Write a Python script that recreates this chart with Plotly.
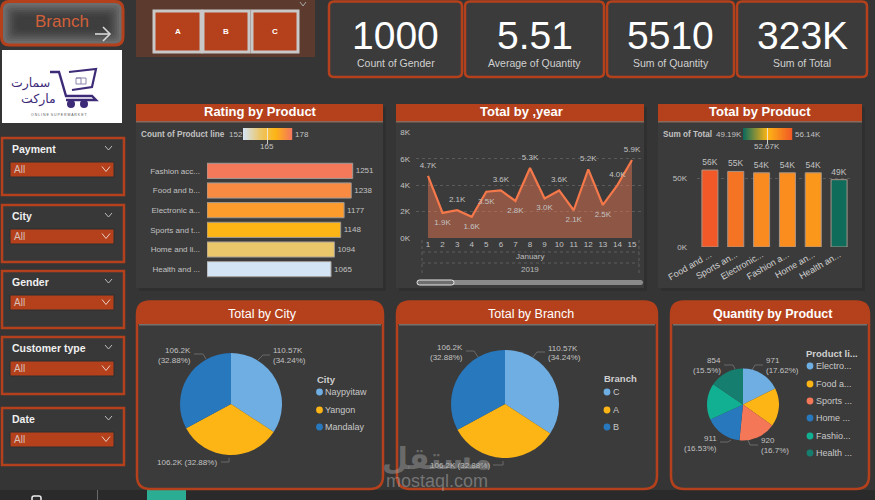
import plotly.graph_objects as go

W, H = 875, 500

# ---- data ----
kpi_values = ["1000", "5.51", "5510", "323K"]
kpi_labels = ["Count of Gender", "Average of Quantity", "Sum of Quantity", "Sum of Total"]
branch_buttons = ["A", "B", "C"]
slicer_names = ["Payment", "City", "Gender", "Customer type", "Date"]

rating_products = ["Fashion acc...", "Food and b...", "Electronic a...", "Sports and t...", "Home and li...", "Health and ..."]
rating_values = [1251, 1238, 1177, 1148, 1094, 1065]
rating_colors = ["#F4785A", "#F98A42", "#FB9C2D", "#FDB515", "#EBC76C", "#D3E4F4"]

days = list(range(1, 16))
day_totals = [4700, 1900, 2100, 1600, 3500, 3600, 2800, 5300, 3000, 3600, 2100, 5200, 2500, 4000, 5900]
day_labels = ["4.7K", "1.9K", "2.1K", "1.6K", "3.5K", "3.6K", "2.8K", "5.3K", "3.0K", "3.6K", "2.1K", "5.2K", "2.5K", "4.0K", "5.9K"]
day_label_pos = ["top center", "bottom center", "top center", "bottom center", "bottom center",
                 "top center", "bottom center", "top center", "bottom center", "top center",
                 "bottom center", "top center", "bottom center", "top center", "top center"]

total_products = ["Food and ...", "Sports an...", "Electronic...", "Fashion a...", "Home an...", "Health an..."]
total_values = [56000, 55000, 54000, 54000, 54000, 49000]
total_labels = ["56K", "55K", "54K", "54K", "54K", "49K"]
total_colors = ["#F15A28", "#F57423", "#FA8B20", "#FB8D1E", "#FB981C", "#0F6B5A"]

city_names = ["Naypyitaw", "Yangon", "Mandalay"]
branch_names = ["C", "A", "B"]
location_totals = [110.57, 106.2, 106.2]
location_shares = [34.24, 32.88, 32.88]
pie3_colors = ["#6FAEE3", "#FDB515", "#2878BE"]

qty_legend = ["Electro...", "Food a...", "Sports ...", "Home ...", "Fashio...", "Health ..."]
qty_values = [971, 952, 920, 911, 902, 854]
qty_share = ["17.62%", "17.28%", "16.7%", "16.53%", "16.37%", "15.5%"]
qty_colors = ["#6FAEE3", "#FDB515", "#F47858", "#2878BE", "#12B093", "#167E6E"]

rating_scale = ["#D3E4F4", "#EBC76C", "#FDB515", "#F4785A"]
total_scale = ["#0E6B5B", "#FDB515", "#F15A25"]

# ---- palette ----
PAGE = "#353535"
CARD = "#3B3B3B"
RED = "#B5411C"
SOFT = "#C2C2C2"
FONT = "Liberation Sans"

shapes, notes = [], []


# ---- pixel helpers for the dashboard furniture ----
def X(px):
    return px / W


def Y(py):
    return 1 - py / H


def rect(x0, y0, x1, y1, fill=None, line=None, width=0):
    shapes.append(dict(type="rect", xref="paper", yref="paper", x0=X(x0), x1=X(x1), y0=Y(y0), y1=Y(y1),
                       fillcolor=fill, line=dict(color=line, width=width), layer="below"))


def path(points, color, width=1, closed=False, fill=None, dash=None):
    d = "M " + " L ".join(f"{X(a):.5f},{Y(b):.5f}" for a, b in points) + (" Z" if closed else "")
    shapes.append(dict(type="path", xref="paper", yref="paper", path=d, fillcolor=fill,
                       line=dict(color=color, width=width, dash=dash), layer="below"))


def round_rect(x0, y0, x1, y1, r, fill=None, line=None, width=0, top_only=False):
    a, b, c, e = X(x0), X(x1), Y(y0), Y(y1)
    rx, ry = r / W, r / H
    if top_only:
        d = (f"M {a},{e} L {a},{c - ry} Q {a},{c} {a + rx},{c} L {b - rx},{c} "
             f"Q {b},{c} {b},{c - ry} L {b},{e} Z")
    else:
        d = (f"M {a},{e + ry} L {a},{c - ry} Q {a},{c} {a + rx},{c} L {b - rx},{c} Q {b},{c} {b},{c - ry} "
             f"L {b},{e + ry} Q {b},{e} {b - rx},{e} L {a + rx},{e} Q {a},{e} {a},{e + ry} Z")
    shapes.append(dict(type="path", xref="paper", yref="paper", path=d, fillcolor=fill,
                       line=dict(color=line, width=width), layer="below"))


def circle(cx, cy, r, fill):
    shapes.append(dict(type="circle", xref="paper", yref="paper", x0=X(cx - r), x1=X(cx + r),
                       y0=Y(cy - r), y1=Y(cy + r), fillcolor=fill, line=dict(width=0), layer="below"))


def text(x, y, s, size=10, color=SOFT, anchor="center", bold=False, family=FONT):
    label = f"<b>{s}</b>" if bold else s
    notes.append(dict(xref="paper", yref="paper", x=X(x), y=Y(y), text=label, showarrow=False,
                      xanchor=anchor, yanchor="middle", borderpad=0,
                      font=dict(size=size, color=color, family=family)))


def mix(stops, t):
    pos = t * (len(stops) - 1)
    i = min(int(pos), len(stops) - 2)
    f = pos - i
    a = [int(stops[i][k:k + 2], 16) for k in (1, 3, 5)]
    b = [int(stops[i + 1][k:k + 2], 16) for k in (1, 3, 5)]
    return "rgb(" + ",".join(str(round(p + (q - p) * f)) for p, q in zip(a, b)) + ")"


def gradient(x0, x1, y0, y1, stops):
    for px in range(x0, x1):
        rect(px, y0, px + 1.2, y1, fill=mix(stops, (px - x0) / (x1 - x0 - 1)))


def chevron(cx, cy, w, h, color="#BDBDBD"):
    path([(cx - w, cy - h), (cx, cy + h), (cx + w, cy - h)], color, 1)


# ---- page ----
rect(0, 0, W, H, fill=PAGE)
rect(0, 490, W, 500, fill="#2A2A2A")
rect(147, 490, 186, 500, fill="#2AAD93")
rect(97, 490, 98, 500, fill="#6A6A6A")
round_rect(32, 496, 41, 504, 2, line="#EDEDED", width=1.5)

# Branch navigation button with its soft bevel
round_rect(1.5, 1.5, 123, 45, 8, fill="#6C6C6C", line=RED, width=3)
for step, shade in enumerate(["#636363", "#595959", "#505050", "#484848", "#424242", "#3E3E3E"]):
    inset = 4 + step * 2.2
    round_rect(1.5 + inset, 1.5 + inset, 123 - inset, 45 - inset, 6, fill=shade)
text(62, 21, "Branch", 17, "#D2603A")
path([(95, 34), (110, 34)], "#D8D8D8", 1.6)
path([(103, 27), (110, 34), (103, 41)], "#D8D8D8", 1.6)

# Logo tile
rect(2, 50, 122, 123, fill="#FFFFFF")
PURPLE = "#3D2B78"
path([(50, 72), (59, 72), (66, 96), (92, 96), (96, 100), (66, 100)], PURPLE, 2.4)
path([(69, 72), (96, 69), (92, 87), (72, 90)], PURPLE, 2.2)
path([(76, 78), (86, 78), (86, 84), (76, 84), (76, 78), (81, 78), (81, 84)], "#8D84AE", 1)
circle(71, 104, 4, PURPLE)
circle(84, 104, 4, PURPLE)
text(30, 83, "سمارت", 12.5, PURPLE, family="DejaVu Sans")
text(38, 99, "ماركت", 12.5, PURPLE, family="DejaVu Sans")
text(59, 115, "O N L I N E  S U P E R M A R K E T", 3.5, "#5A5A5A")

# Branch selector
rect(136, 0, 315, 57, fill="#5C3A2E")
chevron(303, 4, 3, 2, "#A8A8A8")
for (bx0, bx1), name in zip([(154, 201), (203, 249), (252, 298)], branch_buttons):
    rect(bx0, 11, bx1, 52, fill=RED, line="#C8C8C8", width=3)
    text((bx0 + bx1) / 2, 31, name, 8, "#FFFFFF", bold=True)

# KPI cards
kpi_spans = [(329, 462), (465, 604), (607, 734), (737, 867)]
for (cx0, cx1), value, label in zip(kpi_spans, kpi_values, kpi_labels):
    round_rect(cx0, 1.5, cx1, 77, 5, fill=CARD, line=RED, width=2.5)
    text((cx0 + cx1) / 2, 35, value, 39, "#FFFFFF")
    text((cx0 + cx1) / 2, 63, label, 10.5, "#D0D0D0")

# Filter slicers
slicer_tops = [137, 204, 270, 336, 407]
for top, name in zip(slicer_tops, slicer_names):
    rect(2, top + 1, 124, top + 58, fill="#383838", line=RED, width=2.5)
    text(11, top + 12, name, 10.5, "#F0F0F0", anchor="left", bold=True)
    chevron(108.5, top + 11, 3.5, 2)
    rect(10, top + 25, 114, top + 40, fill=RED, line="#2E2E2E", width=1)
    text(13, top + 32.5, "All", 10, "#D8C0B8", anchor="left")
    chevron(106, top + 32, 4, 2.5, "#E6CFC6")

# Chart cards, top row
for x0, x1, title, tx in [(136, 383, "Rating by Product", 260), (396, 644, "Total by ,year", 521.5),
                          (658, 862, "Total by Product", 760)]:
    rect(x0 + 3, 107, x1 + 3, 291, fill="#2F2F2F")
    rect(x0, 104, x1, 288, fill=CARD)
    rect(x0, 104, x1, 121, fill=RED)
    rect(x0, 121, x1, 122.5, fill="#8A6A5A")
    text(tx, 112, title, 13, "#FFFFFF", bold=True)

# Chart cards, bottom row
for x0, x1, title, tx, heavy in [(137, 383, "Total by City", 262, False), (397, 657, "Total by Branch", 531, False),
                                 (671, 869, "Quantity by Product", 773, True)]:
    round_rect(x0, 301.5, x1, 489, 13, fill=CARD, line=RED, width=2.5)
    round_rect(x0 + 0.5, 302, x1 - 0.5, 324, 12, fill=RED, top_only=True)
    rect(x0 + 2, 324.5, x1 - 2, 325.3, fill="#B0A8A4")
    text(tx, 313.5, title, 12.5, "#FFFFFF", bold=heavy)

# Colour-scale legends above the bar charts
text(140, 134, "Count of Product line", 8.2, SOFT, anchor="left", bold=True)
text(228, 134, "152", 8, anchor="left")
gradient(243, 292, 128, 140, rating_scale)
rect(267, 128, 267.8, 144, fill="#EFEFEF")
text(294, 134, "178", 8, anchor="left")
text(267, 146, "165", 8)

text(662, 134, "Sum of Total", 8.2, SOFT, anchor="left", bold=True)
text(715, 134, "49.19K", 8, anchor="left")
gradient(743, 792, 128, 140, total_scale)
rect(767, 128, 767.8, 144, fill="#EFEFEF")
text(794, 134, "56.14K", 8, anchor="left")
text(767, 146, "52.67K", 8)

# Drill hierarchy and scrollbar under the line chart
for gx in (422, 639):
    path([(gx, 240), (gx, 275)], "#5E5E5E", 1, dash="dot")
for gy in (252, 263):
    path([(422, gy), (639, gy)], "#5E5E5E", 1, dash="dot")
text(530, 256, "January", 8, "#BDBDBD")
text(530, 269, "2019", 8, "#BDBDBD")
round_rect(417, 280, 643, 285, 2.5, fill="#8A8A8A")
round_rect(417, 280, 454, 285, 2.5, fill="#6E6E6E", line="#E8E8E8", width=1)


# Pie captions and leader lines
def caption(x, ys, lines, anchor, leader):
    for y, s in zip(ys, lines):
        text(x, y, s, 8, SOFT, anchor=anchor)
    path(leader, "#6A6A6A", 1)


def share_text(value, share):
    return f"{value}K", f"({share}%)"


a, b = share_text(location_totals[0], location_shares[0])
caption(272, (350, 360), (a, b), "left", [(258, 360), (263, 355), (270, 355)])
a, b = share_text(location_totals[2], location_shares[2])
caption(192, (350, 360), (a, b), "right", [(194, 354), (203, 354), (206, 359)])
caption(218, [462], [f"{a} {b}"], "right", [(221, 462), (229, 462), (229, 458)])

a, b = share_text(location_totals[0], location_shares[0])
caption(547, (348, 357), (a, b), "left", [(533, 357), (537, 352), (545, 352)])
a, b = share_text(location_totals[2], location_shares[2])
caption(464, (347, 357), (a, b), "right", [(466, 351), (474, 351), (478, 357)])
caption(491, [465], [f"{a} {b}"], "right", [(493, 465), (503, 465), (503, 461)])

caption(765, (360, 370), (str(qty_values[0]), f"({qty_share[0]})"), "left", [(752, 370), (755, 365), (763, 365)])
caption(760, (440, 450), (str(qty_values[2]), f"({qty_share[2]})"), "left", [(748, 440), (750, 445), (758, 445)])
caption(718, (438, 448), (str(qty_values[3]), f"({qty_share[3]})"), "right", [(720, 442), (728, 442), (731, 440)])
caption(722, (360, 370), (str(qty_values[5]), f"({qty_share[5]})"), "right", [(724, 365), (733, 365), (735, 369)])


# Pie legends
def legend(title, x_title, x_dot, ys, names, colors, y_title):
    text(x_title, y_title, title, 9.5, "#D0D0D0", anchor="left", bold=True)
    for y, name, color in zip(ys, names, colors):
        circle(x_dot, y, 3.4, color)
        text(x_dot + 4.5, y - 0.5, name, 9, "#C8C8C8", anchor="left")


legend("City", 316, 319.5, (392, 410, 427), city_names, pie3_colors, 379)
legend("Branch", 603, 607, (392, 410, 427), branch_names, pie3_colors, 378)
legend("Product li...", 805, 810, (366, 384, 401, 418, 436, 453), qty_legend, qty_colors, 353)

# Site watermark
text(437, 458, "<b>مستقل</b>", 30, "rgba(175,175,175,0.42)", family="DejaVu Sans")
text(437, 481, "mostaql.com", 18, "rgba(175,175,175,0.5)")


# ---- traces ----
fig = go.Figure()
label_font = dict(size=8, color=SOFT, family=FONT)
tick_font = dict(size=8, color=SOFT, family=FONT)

fig.add_trace(go.Bar(
    y=rating_products, x=rating_values, orientation="h", xaxis="x", yaxis="y",
    marker=dict(color=rating_colors, line=dict(color="#A09A96", width=1)),
    text=rating_values, textposition="outside", cliponaxis=False,
    textfont=label_font, hoverinfo="x+y",
))

fig.add_trace(go.Scatter(
    x=days, y=day_totals, xaxis="x2", yaxis="y2", mode="lines+markers+text",
    line=dict(color="#F4784A", width=2.2), fill="tozeroy", fillcolor="rgba(244,120,80,0.45)",
    marker=dict(size=8, opacity=0),
    text=day_labels, textposition=day_label_pos, cliponaxis=False,
    textfont=label_font,
))

fig.add_trace(go.Bar(
    x=total_products, y=total_values, xaxis="x3", yaxis="y3",
    marker=dict(color=total_colors, line=dict(color="#A89488", width=1)),
    text=total_labels, textposition="outside", cliponaxis=False, width=0.62,
    textfont=dict(size=8.5, color=SOFT, family=FONT),
))


def pie(labels, values, colors, cx, cy, r):
    fig.add_trace(go.Pie(
        labels=labels, values=values, sort=False, direction="clockwise", rotation=0,
        marker=dict(colors=colors, line=dict(width=0)), textinfo="none",
        domain=dict(x=[X(cx - r), X(cx + r)], y=[Y(cy + r), Y(cy - r)]),
    ))


pie(city_names, location_totals, pie3_colors, 231, 404, 51)
pie(branch_names, location_totals, pie3_colors, 505, 404, 54)
pie(qty_legend, qty_values, qty_colors, 743, 404.5, 36)

grid_common = dict(gridcolor="#5A5A5A", griddash="dot", gridwidth=1, zeroline=False, fixedrange=True, automargin=False)

fig.update_layout(
    width=W, height=H, autosize=False, margin=dict(l=0, r=0, t=0, b=0), showlegend=False,
    paper_bgcolor=PAGE, plot_bgcolor="rgba(0,0,0,0)", shapes=shapes, annotations=notes,
    bargap=0.23,
    xaxis=dict(domain=[X(207), X(360)], range=[0, 1251 * (360 - 207) / 145.7], visible=False, fixedrange=True,
               automargin=False),
    yaxis=dict(domain=[Y(279), Y(161)], autorange="reversed", type="category", anchor="x", automargin=False,
               tickfont=tick_font, showgrid=False, zeroline=False, showline=False, ticks="",
               ticklabelstandoff=6, fixedrange=True),
    xaxis2=dict(domain=[X(416), X(643)], range=[1 - 12 / 14.57, 15 + 11 / 14.57], anchor="y2", automargin=False,
                tickvals=days, tickfont=tick_font, showgrid=False, zeroline=False, fixedrange=True),
    yaxis2=dict(domain=[Y(238), Y(132.3)], range=[0, 8000], anchor="x2", tickvals=[0, 2000, 4000, 6000, 8000],
                ticktext=["0K", "2K", "4K", "6K", "8K"], tickfont=tick_font, ticklabelstandoff=5, **grid_common),
    xaxis3=dict(domain=[X(697), X(852)], range=[-0.5, 5.5], anchor="y3", type="category", tickangle=-30,
                tickfont=dict(size=9, color="#D0D0D0", family=FONT), showgrid=False, zeroline=False,
                fixedrange=True, automargin=False),
    yaxis3=dict(domain=[Y(247), Y(150)], range=[0, 70600], anchor="x3", tickvals=[0, 50000],
                ticktext=["0K", "50K"], tickfont=tick_font, ticklabelstandoff=9, **grid_common),
)

fig.write_html("out.html", config=dict(displayModeBar=False))
